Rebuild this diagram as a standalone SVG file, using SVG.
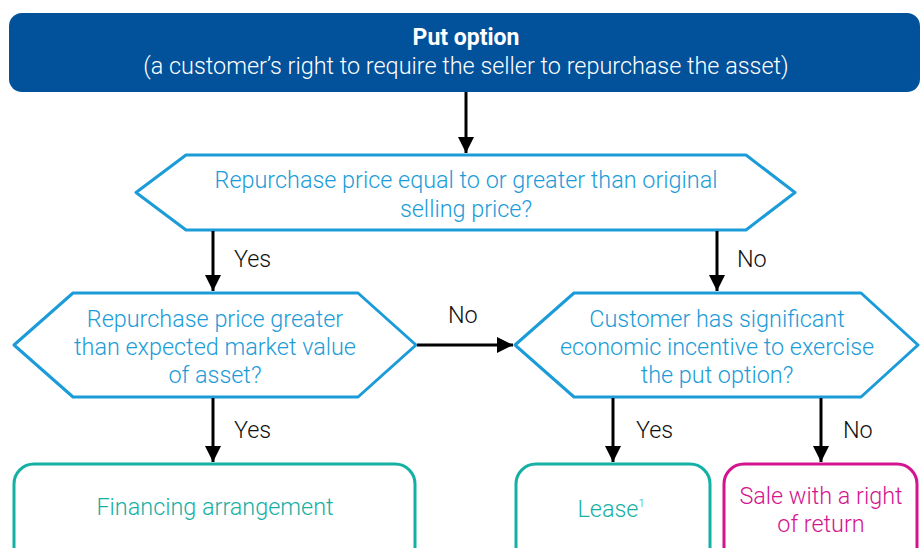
<svg xmlns="http://www.w3.org/2000/svg" width="923" height="548" viewBox="0 0 923 548">
<style>
text{font-family:Roboto,"Liberation Sans",sans-serif;font-size:23.4px;font-weight:300;text-anchor:middle}
text.title{font-weight:700;font-size:23px}
.hex{fill:#fff;stroke:#1b9cd8;stroke-width:3;stroke-linejoin:round}
.q{fill:#1b9cd8}
.lbl{fill:#111;text-anchor:start}
.conn{stroke:#000;stroke-width:3;fill:none}
.teal{fill:#fff;stroke:#14b0a4;stroke-width:3}
.mag{fill:#fff;stroke:#d4148e;stroke-width:3}
</style>
<defs>
<marker id="ah" viewBox="0 0 10 10" refX="10" refY="5" markerWidth="5.5" markerHeight="5.5" orient="auto" markerUnits="strokeWidth">
<path d="M0,0 L10,5 L0,10 z" fill="#000"/>
</marker>
</defs>
<g id="put-option">
<rect x="9" y="13" width="911" height="79" rx="13" fill="#02519b"/>
<text class="title" x="466" y="45" fill="#fff">Put option</text>
<text x="466" y="74" fill="#fff">(a customer’s right to require the seller to repurchase the asset)</text>
</g>
<g id="q1">
<path class="hex" d="M186,155 L746,155 L795,192.5 L746,230 L186,230 L136,192.5 Z"/>
<text class="q" x="466" y="188">Repurchase price equal to or greater than original</text>
<text class="q" x="466" y="217">selling price?</text>
</g>
<g id="q2">
<path class="hex" d="M73,293 L358,293 L416,345 L358,397 L73,397 L14,345 Z"/>
<text class="q" x="215" y="327">Repurchase price greater</text>
<text class="q" x="215" y="355">than expected market value</text>
<text class="q" x="215" y="383">of asset?</text>
</g>
<g id="q3">
<path class="hex" d="M574,293 L861,293 L918,345 L861,397 L574,397 L515,345 Z"/>
<text class="q" x="717" y="327">Customer has significant</text>
<text class="q" x="717" y="355">economic incentive to exercise</text>
<text class="q" x="717" y="383">the put option?</text>
</g>
<g id="financing">
<rect class="teal" x="14" y="464" width="401" height="110" rx="20"/>
<text x="215" y="515" fill="#14b0a4">Financing arrangement</text>
</g>
<g id="lease">
<rect class="teal" x="516" y="464" width="194" height="110" rx="20"/>
<text x="611" y="517" fill="#14b0a4">Lease<tspan font-size="11" dy="-10">1</tspan></text>
</g>
<g id="sale">
<rect class="mag" x="724" y="464" width="193" height="110" rx="20"/>
<text x="821" y="504" fill="#d4148e">Sale with a right</text>
<text x="821" y="532" fill="#d4148e">of return</text>
</g>
<g id="connectors">
<line class="conn" x1="466" y1="92" x2="466" y2="153" marker-end="url(#ah)"/>
<line class="conn" x1="213" y1="231" x2="213" y2="291" marker-end="url(#ah)"/>
<line class="conn" x1="717" y1="231" x2="717" y2="291" marker-end="url(#ah)"/>
<line class="conn" x1="417" y1="345" x2="513" y2="345" marker-end="url(#ah)"/>
<line class="conn" x1="213" y1="398" x2="213" y2="462" marker-end="url(#ah)"/>
<line class="conn" x1="613" y1="398" x2="613" y2="462" marker-end="url(#ah)"/>
<line class="conn" x1="821" y1="398" x2="821" y2="462" marker-end="url(#ah)"/>
<text class="lbl" x="234" y="267">Yes</text>
<text class="lbl" x="737" y="267">No</text>
<text class="lbl" x="448" y="323">No</text>
<text class="lbl" x="234" y="438">Yes</text>
<text class="lbl" x="636" y="438">Yes</text>
<text class="lbl" x="843" y="438">No</text>
</g>
</svg>
